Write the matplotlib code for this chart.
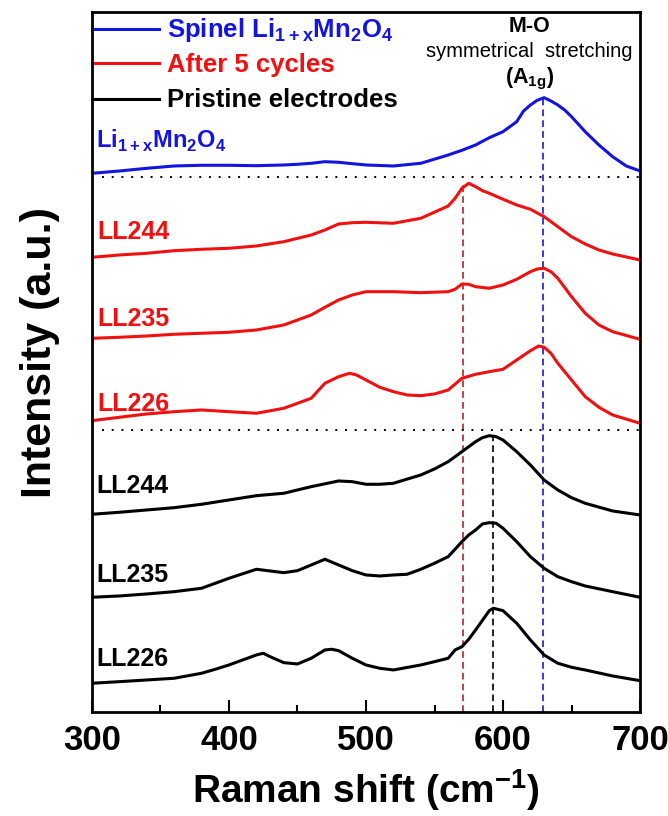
import matplotlib
matplotlib.use('Agg')
import matplotlib.pyplot as plt

plt.rcParams['font.family'] = ['Liberation Sans', 'DejaVu Sans']
plt.rcParams['mathtext.fontset'] = 'custom'
plt.rcParams['mathtext.rm'] = 'Liberation Sans'
plt.rcParams['mathtext.bf'] = 'Liberation Sans:bold'

# Raman shift (cm-1) and stacked intensities (a.u.)
x_spinel = [300, 320, 340, 360, 380, 400, 420, 440, 450, 460, 470, 480, 490, 500, 520, 540, 560, 570, 580, 590, 600, 610, 615, 620, 625, 630, 635, 640, 645, 650, 660, 670, 680, 690, 700]
y_spinel = [538.7, 541, 543.7, 546, 546.7, 546.7, 546.3, 547, 547.7, 548.7, 550.3, 549.7, 548.3, 547, 546, 548.7, 557, 561.7, 567, 574.3, 580.3, 590.3, 601, 607, 611.7, 614.3, 611, 607, 602, 595.3, 580.3, 567, 555.3, 546, 541]

x_c244 = [300, 320, 340, 360, 380, 400, 420, 440, 460, 470, 480, 490, 500, 520, 540, 560, 565, 570, 575, 580, 585, 590, 600, 610, 620, 630, 640, 650, 660, 670, 680, 700]
y_c244 = [454.7, 457, 458.7, 461.3, 462.7, 463.7, 466, 470.3, 477, 482, 488, 489.3, 489.7, 488.7, 493.7, 506, 513.7, 523.7, 528.7, 525.3, 521.3, 518.7, 512.7, 507, 502.7, 495.3, 485.3, 475.3, 468, 462, 458, 452]

x_c235 = [300, 320, 340, 360, 380, 400, 420, 440, 460, 470, 480, 490, 500, 520, 540, 560, 565, 570, 575, 580, 590, 600, 610, 620, 625, 630, 635, 640, 650, 660, 670, 680, 700]
y_c235 = [373.7, 374.7, 376, 377.7, 378.7, 379.7, 382, 387, 397, 404.7, 412, 417, 420.3, 420.3, 419.3, 420.3, 422.7, 428, 427.7, 425.3, 423.7, 427, 432.7, 440.3, 443, 443.7, 440.3, 433.7, 415.3, 398.7, 387, 380.3, 372.7]

x_c226 = [300, 320, 340, 360, 380, 400, 420, 440, 460, 470, 480, 488, 493, 500, 510, 520, 530, 540, 550, 560, 570, 580, 590, 600, 610, 620, 626, 630, 635, 640, 645, 650, 660, 670, 680, 700]
y_c226 = [291.3, 294.7, 298, 300.3, 302, 300.3, 298.7, 303.7, 313.7, 328.7, 335.3, 338.7, 337, 332, 324.7, 320.3, 317, 316.3, 318, 322, 333.7, 337.7, 340.3, 342.7, 352, 361.3, 366, 364.7, 358.7, 348.7, 340.3, 332, 315.3, 304.7, 297, 288.7]

x_p244 = [300, 320, 340, 360, 380, 400, 420, 440, 460, 480, 490, 500, 510, 520, 540, 550, 560, 565, 570, 575, 580, 585, 590, 595, 600, 610, 620, 630, 640, 650, 660, 680, 700]
y_p244 = [197.7, 199.7, 202, 204.3, 207.7, 212, 216.3, 218.7, 225.3, 231, 230.3, 227.7, 227.7, 228.7, 237, 243, 250.3, 255.3, 260.3, 265.3, 270.3, 274.3, 276.3, 275.3, 272, 260.3, 247, 232, 222, 214.3, 208.7, 201, 197]

x_p235 = [300, 320, 340, 360, 380, 400, 420, 430, 440, 450, 460, 470, 480, 490, 500, 510, 520, 530, 540, 550, 560, 565, 570, 575, 580, 585, 590, 595, 600, 610, 620, 630, 640, 650, 660, 680, 700]
y_p235 = [114.7, 116, 118, 120.3, 123.7, 133.7, 142.7, 141, 139.3, 141.3, 147, 152.7, 147, 141.3, 137, 136, 137, 137.7, 142.7, 148.7, 155.3, 162.7, 170.3, 177, 182, 188, 189.3, 188.7, 183.7, 170.3, 155.3, 143.7, 135.3, 130.3, 126, 120.3, 114.7]

x_p226 = [300, 320, 340, 360, 380, 390, 400, 410, 420, 425, 430, 440, 450, 460, 470, 475, 480, 490, 500, 510, 520, 540, 550, 560, 565, 570, 575, 580, 590, 593, 600, 610, 620, 630, 640, 650, 660, 680, 700]
y_p226 = [28.7, 30.3, 32, 33.7, 38.7, 42.7, 47, 52, 57, 58.7, 55.3, 49.3, 48, 53.7, 62, 62.7, 61.3, 53.7, 47, 43.7, 42, 47, 50.3, 53.7, 62, 65.3, 72.7, 82, 101.3, 103.7, 101.3, 88.7, 72, 57, 48.7, 44.7, 42, 36, 31.3]

blue = '#1414e0'
red = '#f01010'

fig = plt.figure(figsize=(6.68, 8.16), dpi=100)
ax = fig.add_axes([0.1377, 0.1275, 0.8204, 0.8578])

# guide lines
ax.plot([629, 629], [0, 614.3], color='#1a1acc', ls=(0, (4, 2.5)), lw=1.2)
ax.plot([571, 571], [0, 528.7], color='#b22222', ls=(0, (4, 2.5)), lw=1.2)
ax.plot([593, 593], [0, 276.3], color='black', ls=(0, (4, 2.5)), lw=1.2)
ax.plot([307, 700], [535, 535], color='black', ls=(0, (1, 4)), lw=1.4)
ax.plot([307, 700], [282, 282], color='black', ls=(0, (1, 4)), lw=1.4)

ax.plot(x_spinel, y_spinel, color=blue, lw=2.2)
for xs, ys in [(x_c244, y_c244), (x_c235, y_c235), (x_c226, y_c226)]:
    ax.plot(xs, ys, color=red, lw=2.2)
for xs, ys in [(x_p244, y_p244), (x_p235, y_p235), (x_p226, y_p226)]:
    ax.plot(xs, ys, color='black', lw=2.2)

ax.set_xlim(300, 700)
ax.set_ylim(0, 700)
ax.set_yticks([])
ax.set_xticks([300, 400, 500, 600, 700])
ax.set_xticks([350, 450, 550, 650], minor=True)
ax.tick_params(axis='x', which='major', direction='in', length=9, width=1.5, labelsize=25, pad=9)
ax.tick_params(axis='x', which='minor', direction='in', length=5, width=1.5)
for lab in ax.get_xticklabels():
    lab.set_fontweight('bold')
for sp in ax.spines.values():
    sp.set_linewidth(2)

fig.text(366 / 668, 1 - 803 / 816, 'Raman shift (cm$^{\\mathbf{-1}}$)', fontsize=28, fontweight='bold',
         ha='center', va='baseline')
fig.text(40 / 668, 1 - 352 / 816, 'Intensity (a.u.)', fontsize=31, fontweight='bold',
         ha='center', va='center', rotation=90)

# legend-like entries
leg = [('Spinel Li$_{\\mathbf{1+x}}$Mn$_{\\mathbf{2}}$O$_{\\mathbf{4}}$', blue, 683, 675),
       ('After 5 cycles', red, 649, 640),
       ('Pristine electrodes', 'black', 613, 605)]
for txt, c, yl, yt in leg:
    ax.plot([300, 349], [yl, yl], color=c, lw=2.2, clip_on=False)
    ax.text(355, yt, txt, color=c, fontsize=18.5, fontweight='bold', va='baseline')

# curve labels
ax.text(303, 564, 'Li$_{\\mathbf{1+x}}$Mn$_{\\mathbf{2}}$O$_{\\mathbf{4}}$', color=blue, fontsize=17, fontweight='bold', va='baseline')
for lbl, yy in [('LL244', 473), ('LL235', 386), ('LL226', 301)]:
    ax.text(304, yy, lbl, color=red, fontsize=18, fontweight='bold', va='baseline')
for lbl, yy in [('LL244', 219), ('LL235', 130), ('LL226', 46)]:
    ax.text(303, yy, lbl, color='black', fontsize=18, fontweight='bold', va='baseline')

ax.text(619, 680, 'M-O', fontsize=15.5, fontweight='bold', ha='center', va='baseline')
ax.text(619, 655, 'symmetrical  stretching', fontsize=14.5, ha='center', va='baseline')
ax.text(619, 629, '(A$_{\\mathbf{1g}}$)', fontsize=15.5, fontweight='bold', ha='center', va='baseline')

fig.savefig('out.png', dpi=100)
